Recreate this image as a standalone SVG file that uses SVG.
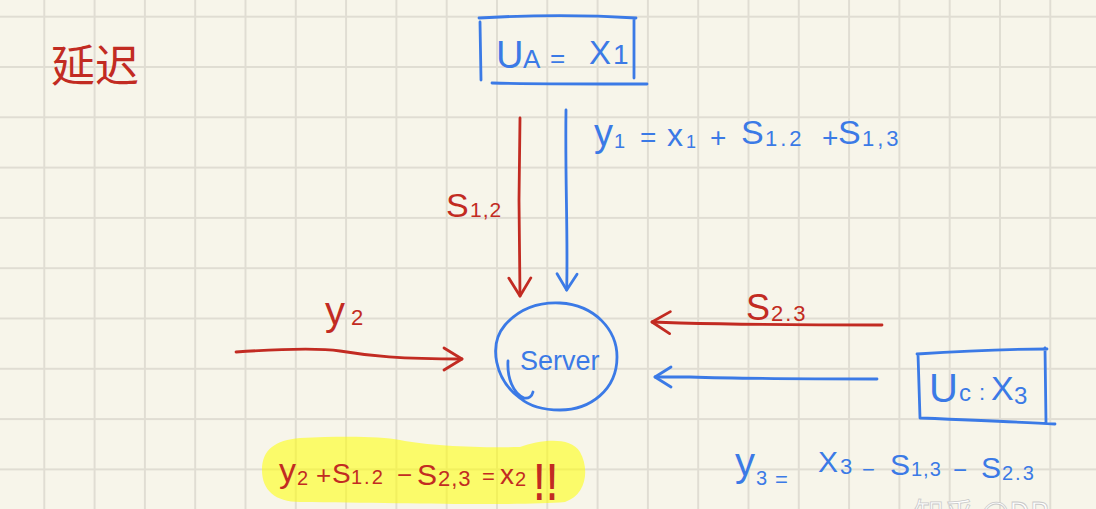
<svg xmlns="http://www.w3.org/2000/svg" width="1096" height="509" viewBox="0 0 1096 509">
<style>
.r{fill:#c22b22}
.b{fill:#3b7ae6}
text{font-family:"Liberation Sans","Noto Sans",sans-serif}
.ls{stroke:#c22b22;stroke-width:2.8;fill:none;stroke-linecap:round;stroke-linejoin:round}
.lb{stroke:#3b7ae6;stroke-width:2.8;fill:none;stroke-linecap:round;stroke-linejoin:round}
</style>
<defs>
<pattern id="grid" patternUnits="userSpaceOnUse" x="43.3" y="15.7" width="50.3" height="50.3">
<path d="M1 0 V50.3 M0 1 H50.3" stroke="#e0ddd3" stroke-width="2" fill="none"/>
</pattern>
<marker id="ar" markerUnits="userSpaceOnUse" markerWidth="40" markerHeight="40" viewBox="-30 -20 40 40" refX="0" refY="0" orient="auto" overflow="visible">
<path d="M-18 -11 L0 0 L-18 11" stroke="#c22b22" stroke-width="2.8" fill="none" stroke-linecap="round" stroke-linejoin="round"/>
</marker>
<marker id="ab" markerUnits="userSpaceOnUse" markerWidth="40" markerHeight="40" viewBox="-30 -20 40 40" refX="0" refY="0" orient="auto" overflow="visible">
<path d="M-16 -10 L0 0 L-16 10" stroke="#3b7ae6" stroke-width="2.8" fill="none" stroke-linecap="round" stroke-linejoin="round"/>
</marker>
</defs>
<rect width="1096" height="509" fill="#f7f5ea"/>
<rect width="1096" height="509" fill="url(#grid)"/>

<g id="title">
<text x="51" y="82" font-size="44" class="r" style="font-family:'Noto Sans CJK SC',sans-serif">延迟</text>
</g>

<g id="node-ua">
<path class="lb" d="M479 18 C530 15 590 15 636 18 M480 22 L481 80 M634 18 L634 78 M492 83 C540 84 600 84 647 84"/>
<text class="b"><tspan x="496" y="68" font-size="38">U</tspan><tspan x="523" y="68" font-size="26">A</tspan><tspan x="550" y="67" font-size="26">=</tspan><tspan x="589" y="64" font-size="33">X</tspan><tspan x="613" y="64" font-size="28">1</tspan></text>
</g>

<g id="node-server">
<path class="lb" d="M520 398 C495 380 488 345 505 325 C520 308 540 302 560 303 C595 305 617 330 617 357 C617 390 590 410 560 410 C540 410 527 404 520 398 M508 361 C507 378 513 393 524 398 C529 399 532 396 533 392"/>
<text x="520" y="370" font-size="27" class="b">Server</text>
</g>

<g id="node-uc">
<path class="lb" d="M917 354 C960 351 1010 349 1047 349 M918 354 L920 418 M1045 348 L1046 423 M920 418 C970 420 1020 422 1055 424"/>
<text class="b"><tspan x="929" y="402" font-size="40">U</tspan><tspan x="959" y="401" font-size="24">c</tspan><tspan x="979" y="400" font-size="22">:</tspan><tspan x="991" y="400" font-size="34">X</tspan><tspan x="1014" y="404" font-size="24">3</tspan></text>
</g>

<g id="connectors">
<path class="ls" d="M520 118 L519 200 L520 296" marker-end="url(#ar)"/>
<path class="lb" d="M566 110 C565 180 568 230 566.7 290" marker-end="url(#ab)"/>
<path class="ls" d="M236 352 C280 349 320 348 340 351 C370 356 400 359 462 359" marker-end="url(#ar)"/>
<path class="ls" d="M882 325 C800 325 720 324 680 323 L652 322" marker-end="url(#ar)"/>
<path class="lb" d="M877 379 C800 379 720 378 690 377 L655 377" marker-end="url(#ab)"/>
</g>

<g id="label-s12">
<text class="r"><tspan x="446" y="217" font-size="34">S</tspan><tspan x="470" y="217" font-size="21" letter-spacing="1">1,2</tspan></text>
</g>

<g id="label-y1">
<text class="b"><tspan x="594" y="146" font-size="38">y</tspan><tspan x="614" y="148" font-size="20">1</tspan><tspan x="640" y="147" font-size="28">=</tspan><tspan x="667" y="146" font-size="32">x</tspan><tspan x="686" y="148" font-size="18">1</tspan><tspan x="710" y="147" font-size="28">+</tspan><tspan x="741" y="144" font-size="34">S</tspan><tspan x="765" y="146" font-size="22" letter-spacing="3">1.2</tspan><tspan x="822" y="147" font-size="28">+</tspan><tspan x="838" y="144" font-size="34">S</tspan><tspan x="862" y="146" font-size="22" letter-spacing="3">1,3</tspan></text>
</g>

<g id="label-y2">
<text class="r"><tspan x="325" y="325" font-size="40">y</tspan><tspan x="351" y="325" font-size="22">2</tspan></text>
</g>

<g id="label-s23">
<text class="r"><tspan x="746" y="320" font-size="36">S</tspan><tspan x="771" y="321" font-size="22" letter-spacing="2">2.3</tspan></text>
</g>

<g id="formula-x2">
<path d="M262 470 C262 450 275 440 300 438 C340 436 380 436 400 440 C430 446 480 448 520 447 C540 440 570 436 580 452 C590 470 586 495 565 502 C520 506 400 503 300 502 C275 502 262 490 262 470 Z" fill="#ffff00" fill-opacity="0.55"/>
<text class="r"><tspan x="279" y="482" font-size="34">y</tspan><tspan x="297" y="485" font-size="20">2</tspan><tspan x="316" y="484" font-size="26">+</tspan><tspan x="332" y="483" font-size="28">S</tspan><tspan x="351" y="484" font-size="20" letter-spacing="2">1.2</tspan><tspan x="397" y="484" font-size="26">−</tspan><tspan x="417" y="485" font-size="30">S</tspan><tspan x="438" y="486" font-size="22" letter-spacing="1">2,3</tspan><tspan x="482" y="484" font-size="22">=</tspan><tspan x="500" y="484" font-size="28">x</tspan><tspan x="515" y="486" font-size="20">2</tspan></text>
<text class="r" font-size="32" font-weight="bold" letter-spacing="2" transform="translate(534 500) scale(1 1.6)">!!</text>
</g>

<g id="formula-y3">
<text class="b"><tspan x="735" y="476" font-size="40">y</tspan><tspan x="756" y="485" font-size="20">3</tspan><tspan x="775" y="487" font-size="22">=</tspan><tspan x="818" y="472" font-size="30">X</tspan><tspan x="840" y="474" font-size="22">3</tspan><tspan x="862" y="477" font-size="22">−</tspan><tspan x="890" y="475" font-size="30">S</tspan><tspan x="911" y="476" font-size="20" letter-spacing="1">1,3</tspan><tspan x="953" y="478" font-size="24">−</tspan><tspan x="981" y="478" font-size="30">S</tspan><tspan x="1002" y="480" font-size="20" letter-spacing="2">2.3</tspan></text>
</g>

<g id="watermark">
<text x="914" y="524" font-size="30" fill="#ffffff" stroke="#c9c9c9" stroke-width="0.8" style="font-family:'Noto Sans CJK SC',sans-serif">知乎 @DP</text>
</g>
</svg>
